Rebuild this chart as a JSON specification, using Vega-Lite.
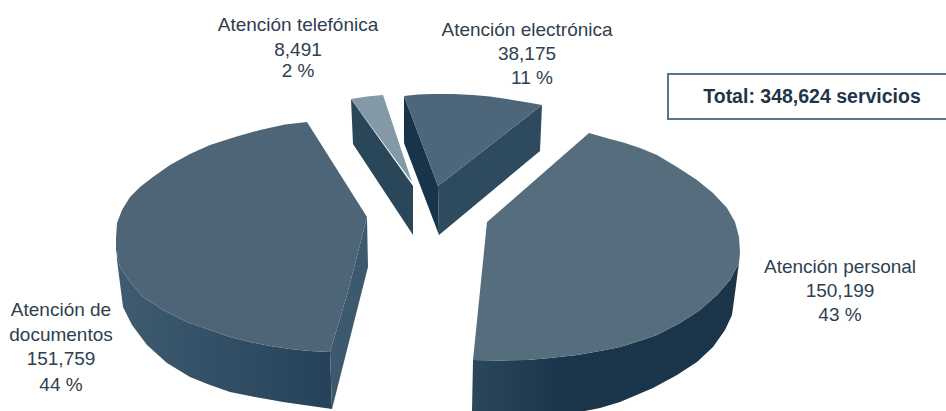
{
"$schema":"https://vega.github.io/schema/vega-lite/v6.json",
"width":946,"height":411,"padding":0,"autosize":{"type":"fit","contains":"padding"},
"background":"white","view":{"stroke":null},
"datasets":{
"faces":[
{"f":"docOuter","i":0,"x":116,"y":238},{"f":"docOuter","i":1,"x":116,"y":250},{"f":"docOuter","i":2,"x":120,"y":267},{"f":"docOuter","i":3,"x":130,"y":282},{"f":"docOuter","i":4,"x":143,"y":297},{"f":"docOuter","i":5,"x":163,"y":310},{"f":"docOuter","i":6,"x":187,"y":322},{"f":"docOuter","i":7,"x":210,"y":330},{"f":"docOuter","i":8,"x":230,"y":337},{"f":"docOuter","i":9,"x":250,"y":342},{"f":"docOuter","i":10,"x":270,"y":346},{"f":"docOuter","i":11,"x":290,"y":349},{"f":"docOuter","i":12,"x":310,"y":351},{"f":"docOuter","i":13,"x":330,"y":352},{"f":"docOuter","i":14,"x":332,"y":409},{"f":"docOuter","i":15,"x":283,"y":402},{"f":"docOuter","i":16,"x":255,"y":397},{"f":"docOuter","i":17,"x":230,"y":392},{"f":"docOuter","i":18,"x":210,"y":385},{"f":"docOuter","i":19,"x":190,"y":377},{"f":"docOuter","i":20,"x":167,"y":363},{"f":"docOuter","i":21,"x":147,"y":345},{"f":"docOuter","i":22,"x":132,"y":325},{"f":"docOuter","i":23,"x":123,"y":307},{"f":"docOuter","i":24,"x":117,"y":260},{"f":"docOuter","i":25,"x":116,"y":238},
{"f":"docCut","i":0,"x":330,"y":352},{"f":"docCut","i":1,"x":347,"y":295},{"f":"docCut","i":2,"x":367,"y":217},{"f":"docCut","i":3,"x":368,"y":267},{"f":"docCut","i":4,"x":350,"y":338},{"f":"docCut","i":5,"x":332,"y":409},{"f":"docCut","i":6,"x":330,"y":352},
{"f":"docTop","i":0,"x":307,"y":122},{"f":"docTop","i":1,"x":285,"y":124.5},{"f":"docTop","i":2,"x":260,"y":130},{"f":"docTop","i":3,"x":235,"y":137},{"f":"docTop","i":4,"x":210,"y":145},{"f":"docTop","i":5,"x":190,"y":154},{"f":"docTop","i":6,"x":170,"y":165},{"f":"docTop","i":7,"x":153,"y":177},{"f":"docTop","i":8,"x":140,"y":187},{"f":"docTop","i":9,"x":130,"y":197},{"f":"docTop","i":10,"x":122,"y":210},{"f":"docTop","i":11,"x":117,"y":223},{"f":"docTop","i":12,"x":116,"y":238},{"f":"docTop","i":13,"x":116,"y":250},{"f":"docTop","i":14,"x":120,"y":267},{"f":"docTop","i":15,"x":130,"y":282},{"f":"docTop","i":16,"x":143,"y":297},{"f":"docTop","i":17,"x":163,"y":310},{"f":"docTop","i":18,"x":187,"y":322},{"f":"docTop","i":19,"x":210,"y":330},{"f":"docTop","i":20,"x":230,"y":337},{"f":"docTop","i":21,"x":250,"y":342},{"f":"docTop","i":22,"x":270,"y":346},{"f":"docTop","i":23,"x":290,"y":349},{"f":"docTop","i":24,"x":310,"y":351},{"f":"docTop","i":25,"x":330,"y":352},{"f":"docTop","i":26,"x":347,"y":295},{"f":"docTop","i":27,"x":367,"y":217},{"f":"docTop","i":28,"x":307,"y":122},
{"f":"perOuter","i":0,"x":739,"y":263},{"f":"perOuter","i":1,"x":730,"y":280},{"f":"perOuter","i":2,"x":717,"y":295},{"f":"perOuter","i":3,"x":700,"y":310},{"f":"perOuter","i":4,"x":680,"y":323},{"f":"perOuter","i":5,"x":657,"y":335},{"f":"perOuter","i":6,"x":633,"y":343},{"f":"perOuter","i":7,"x":620,"y":347},{"f":"perOuter","i":8,"x":600,"y":351},{"f":"perOuter","i":9,"x":577,"y":355},{"f":"perOuter","i":10,"x":550,"y":358},{"f":"perOuter","i":11,"x":527,"y":360},{"f":"perOuter","i":12,"x":500,"y":360.5},{"f":"perOuter","i":13,"x":473,"y":360},{"f":"perOuter","i":14,"x":472,"y":411},{"f":"perOuter","i":15,"x":585,"y":411},{"f":"perOuter","i":16,"x":600,"y":408},{"f":"perOuter","i":17,"x":620,"y":402},{"f":"perOuter","i":18,"x":653,"y":388},{"f":"perOuter","i":19,"x":677,"y":375},{"f":"perOuter","i":20,"x":697,"y":362},{"f":"perOuter","i":21,"x":713,"y":347},{"f":"perOuter","i":22,"x":725,"y":330},{"f":"perOuter","i":23,"x":732,"y":315},{"f":"perOuter","i":24,"x":735,"y":293},{"f":"perOuter","i":25,"x":738,"y":270},{"f":"perOuter","i":26,"x":739,"y":263},
{"f":"perTop","i":0,"x":589,"y":133},{"f":"perTop","i":1,"x":610,"y":139},{"f":"perTop","i":2,"x":625,"y":143},{"f":"perTop","i":3,"x":640,"y":148},{"f":"perTop","i":4,"x":657,"y":155},{"f":"perTop","i":5,"x":677,"y":167},{"f":"perTop","i":6,"x":697,"y":180},{"f":"perTop","i":7,"x":713,"y":193},{"f":"perTop","i":8,"x":727,"y":208},{"f":"perTop","i":9,"x":735,"y":222},{"f":"perTop","i":10,"x":739,"y":237},{"f":"perTop","i":11,"x":740,"y":253},{"f":"perTop","i":12,"x":739,"y":263},{"f":"perTop","i":13,"x":730,"y":280},{"f":"perTop","i":14,"x":717,"y":295},{"f":"perTop","i":15,"x":700,"y":310},{"f":"perTop","i":16,"x":680,"y":323},{"f":"perTop","i":17,"x":657,"y":335},{"f":"perTop","i":18,"x":633,"y":343},{"f":"perTop","i":19,"x":620,"y":347},{"f":"perTop","i":20,"x":600,"y":351},{"f":"perTop","i":21,"x":577,"y":355},{"f":"perTop","i":22,"x":550,"y":358},{"f":"perTop","i":23,"x":527,"y":360},{"f":"perTop","i":24,"x":500,"y":360.5},{"f":"perTop","i":25,"x":473,"y":360},{"f":"perTop","i":26,"x":487,"y":222},{"f":"perTop","i":27,"x":589,"y":133},
{"f":"telSide","i":0,"x":351,"y":99},{"f":"telSide","i":1,"x":353,"y":144},{"f":"telSide","i":2,"x":413,"y":235},{"f":"telSide","i":3,"x":413,"y":186},{"f":"telSide","i":4,"x":351,"y":99},
{"f":"telTop","i":0,"x":351,"y":99},{"f":"telTop","i":1,"x":367,"y":96.5},{"f":"telTop","i":2,"x":383,"y":95},{"f":"telTop","i":3,"x":412,"y":182},{"f":"telTop","i":4,"x":351,"y":99},
{"f":"eleLeft","i":0,"x":404,"y":96},{"f":"eleLeft","i":1,"x":404,"y":143},{"f":"eleLeft","i":2,"x":439,"y":235},{"f":"eleLeft","i":3,"x":438,"y":186},{"f":"eleLeft","i":4,"x":404,"y":96},
{"f":"eleRight","i":0,"x":438,"y":186},{"f":"eleRight","i":1,"x":542,"y":105},{"f":"eleRight","i":2,"x":540,"y":151},{"f":"eleRight","i":3,"x":439,"y":235},{"f":"eleRight","i":4,"x":438,"y":186},
{"f":"eleTop","i":0,"x":404,"y":96},{"f":"eleTop","i":1,"x":418,"y":94.5},{"f":"eleTop","i":2,"x":433,"y":94},{"f":"eleTop","i":3,"x":453,"y":94},{"f":"eleTop","i":4,"x":473,"y":95},{"f":"eleTop","i":5,"x":490,"y":96.5},{"f":"eleTop","i":6,"x":507,"y":99},{"f":"eleTop","i":7,"x":525,"y":102},{"f":"eleTop","i":8,"x":542,"y":105},{"f":"eleTop","i":9,"x":438,"y":186},{"f":"eleTop","i":10,"x":404,"y":96}
],
"labels":[
{"t":"Atención telefónica","x":298,"y":25},{"t":"8,491","x":298,"y":50},{"t":"2 %","x":298,"y":71},
{"t":"Atención electrónica","x":527,"y":30},{"t":"38,175","x":527,"y":54},{"t":"11 %","x":532,"y":78},
{"t":"Atención personal","x":840,"y":267},{"t":"150,199","x":840,"y":291},{"t":"43 %","x":840,"y":315},
{"t":"Atención de","x":61,"y":310},{"t":"documentos","x":61,"y":335},{"t":"151,759","x":61,"y":359},{"t":"44 %","x":61,"y":385}
]
},
"encoding":{
"x":{"field":"x","type":"quantitative","scale":{"domain":[0,946],"nice":false,"zero":false},"axis":null},
"y":{"field":"y","type":"quantitative","scale":{"domain":[411,0],"nice":false,"zero":false},"axis":null}
},
"layer":[
{"data":{"name":"faces"},"transform":[{"filter":"datum.f==='docOuter'"}],"mark":{"type":"line","strokeWidth":0,"fill":{"gradient":"linear","x1":0,"x2":1,"y1":0,"y2":0,"stops":[{"offset":0,"color":"#3f5b70"},{"offset":1,"color":"#26425a"}]}},"encoding":{"order":{"field":"i","type":"quantitative"}}},
{"data":{"name":"faces"},"transform":[{"filter":"datum.f==='docCut'"}],"mark":{"type":"line","strokeWidth":0,"fill":"#3d596d"},"encoding":{"order":{"field":"i","type":"quantitative"}}},
{"data":{"name":"faces"},"transform":[{"filter":"datum.f==='docTop'"}],"mark":{"type":"line","strokeWidth":0,"fill":"#4e6477"},"encoding":{"order":{"field":"i","type":"quantitative"}}},
{"data":{"name":"faces"},"transform":[{"filter":"datum.f==='perOuter'"}],"mark":{"type":"line","strokeWidth":0,"fill":{"gradient":"linear","x1":0,"x2":1,"y1":0,"y2":0,"stops":[{"offset":0,"color":"#2b475c"},{"offset":0.35,"color":"#1a344a"},{"offset":1,"color":"#1b354b"}]}},"encoding":{"order":{"field":"i","type":"quantitative"}}},
{"data":{"name":"faces"},"transform":[{"filter":"datum.f==='perTop'"}],"mark":{"type":"line","strokeWidth":0,"fill":"#566d7e"},"encoding":{"order":{"field":"i","type":"quantitative"}}},
{"data":{"name":"faces"},"transform":[{"filter":"datum.f==='telSide'"}],"mark":{"type":"line","strokeWidth":0,"fill":"#2a4659"},"encoding":{"order":{"field":"i","type":"quantitative"}}},
{"data":{"name":"faces"},"transform":[{"filter":"datum.f==='telTop'"}],"mark":{"type":"line","strokeWidth":0,"fill":"#8499a6"},"encoding":{"order":{"field":"i","type":"quantitative"}}},
{"data":{"name":"faces"},"transform":[{"filter":"datum.f==='eleLeft'"}],"mark":{"type":"line","strokeWidth":0,"fill":"#18344a"},"encoding":{"order":{"field":"i","type":"quantitative"}}},
{"data":{"name":"faces"},"transform":[{"filter":"datum.f==='eleRight'"}],"mark":{"type":"line","strokeWidth":0,"fill":"#2e4a5e"},"encoding":{"order":{"field":"i","type":"quantitative"}}},
{"data":{"name":"faces"},"transform":[{"filter":"datum.f==='eleTop'"}],"mark":{"type":"line","strokeWidth":0,"fill":"#4d6679"},"encoding":{"order":{"field":"i","type":"quantitative"}}},
{"data":{"values":[{"x":668,"x2":960,"y":74,"y2":119}]},"mark":{"type":"rect","clip":true,"fill":"white","stroke":"#5a7488","strokeWidth":2},"encoding":{"x2":{"field":"x2"},"y2":{"field":"y2"}}},
{"data":{"values":[{"t":"Total: 348,624 servicios","x":812,"y":97}]},"mark":{"type":"text","font":"Liberation Sans","fontSize":19.5,"fontWeight":"bold","color":"#1f3549","align":"center","baseline":"middle"},"encoding":{"text":{"field":"t"}}},
{"data":{"name":"labels"},"mark":{"type":"text","font":"Liberation Sans","fontSize":19,"color":"#2f4050","align":"center","baseline":"middle"},"encoding":{"text":{"field":"t"}}}
]
}
